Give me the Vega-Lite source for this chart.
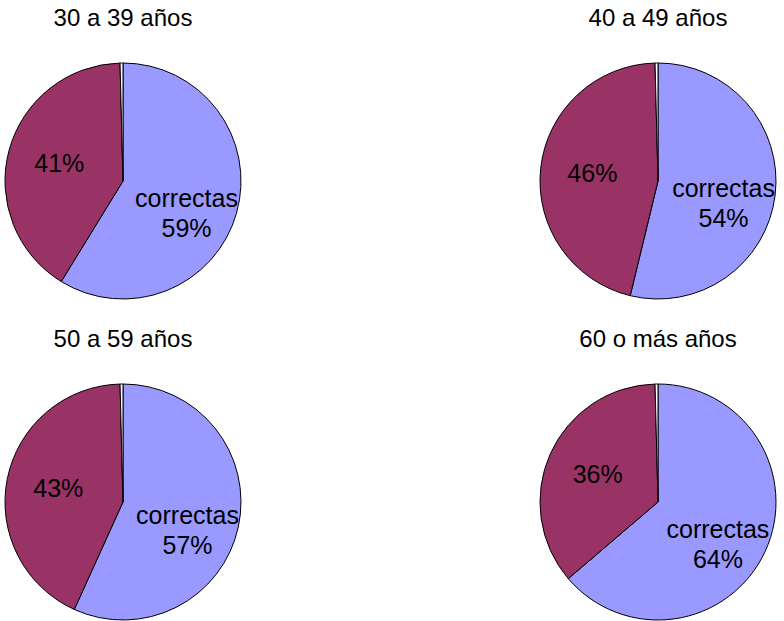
{
  "$schema": "https://vega.github.io/schema/vega-lite/v6.json",
  "padding": {"top": 7, "left": 0, "right": 0, "bottom": 0},
  "background": "white",
  "config": {"view": {"stroke": null}, "font": "Liberation Sans"},
  "data": {"values": [
    {"grupo": "30 a 39 años", "respuesta": "correctas", "valor": 59, "etiqueta": ["correctas", "59%"]},
    {"grupo": "30 a 39 años", "respuesta": "incorrectas", "valor": 41, "etiqueta": ["41%"]},
    {"grupo": "30 a 39 años", "respuesta": "sin respuesta", "valor": 0.4, "etiqueta": [""]},
    {"grupo": "40 a 49 años", "respuesta": "correctas", "valor": 54, "etiqueta": ["correctas", "54%"]},
    {"grupo": "40 a 49 años", "respuesta": "incorrectas", "valor": 46, "etiqueta": ["46%"]},
    {"grupo": "40 a 49 años", "respuesta": "sin respuesta", "valor": 0.4, "etiqueta": [""]},
    {"grupo": "50 a 59 años", "respuesta": "correctas", "valor": 57, "etiqueta": ["correctas", "57%"]},
    {"grupo": "50 a 59 años", "respuesta": "incorrectas", "valor": 43, "etiqueta": ["43%"]},
    {"grupo": "50 a 59 años", "respuesta": "sin respuesta", "valor": 0.4, "etiqueta": [""]},
    {"grupo": "60 o más años", "respuesta": "correctas", "valor": 64, "etiqueta": ["correctas", "64%"]},
    {"grupo": "60 o más años", "respuesta": "incorrectas", "valor": 36, "etiqueta": ["36%"]},
    {"grupo": "60 o más años", "respuesta": "sin respuesta", "valor": 0.4, "etiqueta": [""]}
  ]},
  "facet": {
    "field": "grupo", "type": "nominal",
    "sort": ["30 a 39 años", "40 a 49 años", "50 a 59 años", "60 o más años"],
    "header": {"title": null, "labelFontSize": 24, "labelFont": "Liberation Sans", "labelColor": "black", "labelPadding": 30}
  },
  "columns": 2,
  "spacing": {"column": 289, "row": 27},
  "spec": {
    "width": 246,
    "height": 240,
    "encoding": {
      "theta": {"field": "valor", "type": "quantitative", "stack": true},
      "order": {"field": "respuesta", "type": "nominal", "sort": "ascending"}
    },
    "layer": [
      {"mark": {"type": "arc", "outerRadius": 118, "stroke": "black", "strokeWidth": 1},
        "encoding": {"color": {"field": "respuesta", "type": "nominal", "legend": null,
          "scale": {"domain": ["correctas", "incorrectas", "sin respuesta"], "range": ["#9999FF", "#993366", "#FFFFFF"]}}}},
      {"mark": {"type": "text", "radius": 66, "fontSize": 25, "font": "Liberation Sans", "lineHeight": 30, "fill": "black"},
        "encoding": {"text": {"field": "etiqueta"}, "detail": {"field": "respuesta", "type": "nominal"}}}
    ]
  }
}
